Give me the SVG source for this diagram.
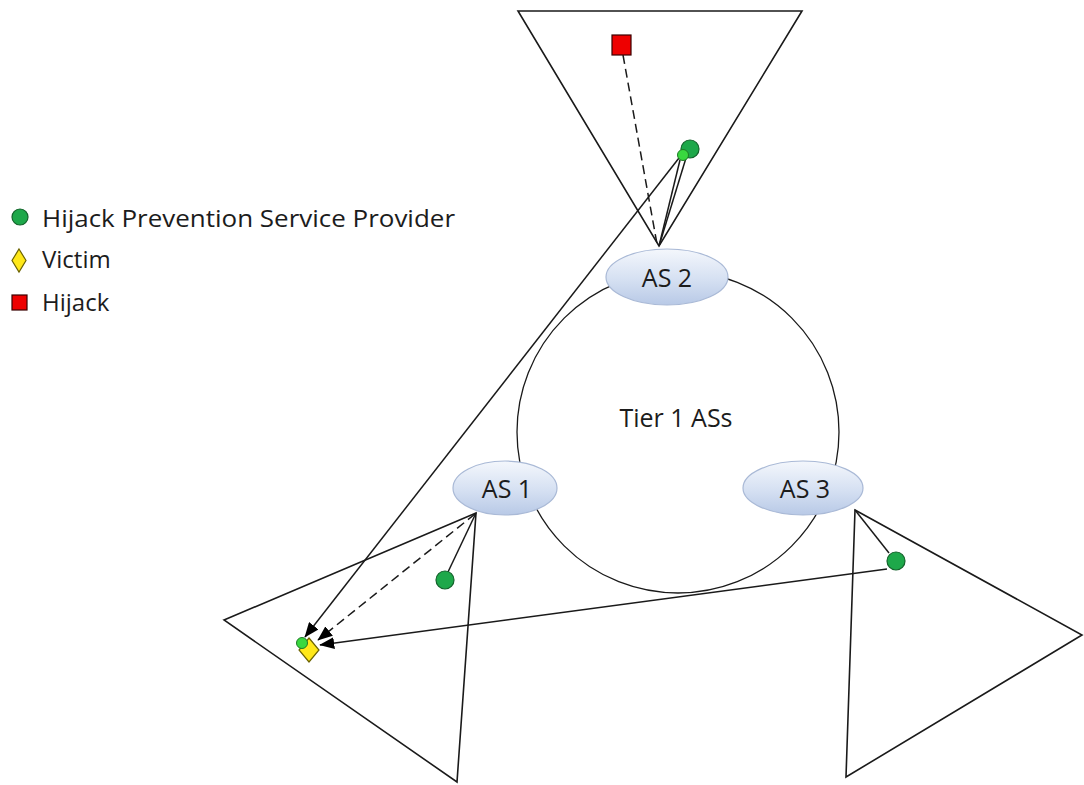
<svg xmlns="http://www.w3.org/2000/svg" width="1084" height="785" viewBox="0 0 1084 785">
  <defs>
    <linearGradient id="asFill" x1="0" y1="0" x2="0" y2="1">
      <stop offset="0" stop-color="#f4f7fc"/>
      <stop offset="0.55" stop-color="#d5e0f2"/>
      <stop offset="1" stop-color="#b8c9e6"/>
    </linearGradient>
    <marker id="arrow" viewBox="0 0 10 8" refX="9.5" refY="4" markerWidth="10" markerHeight="8" orient="auto" markerUnits="strokeWidth">
      <path d="M0,0 L10,4 L0,8 z" fill="#000"/>
    </marker>
    <style>
      .edge { fill: none; stroke: #1a1a1a; stroke-width: 1.5; }
      .dash { stroke-dasharray: 9 5; }
      .tri { fill: none; stroke: #1a1a1a; stroke-width: 1.6; }
      .as { fill: url(#asFill); stroke: #a9b9d6; stroke-width: 1.2; }
      .label { font-family: "Open Sans", "Liberation Sans", sans-serif; fill: #1c1c1c; }
      .hpsp { fill: #1ea84a; stroke: #13632b; stroke-width: 1.2; }
      .hpsp-small { fill: #39d83f; stroke: #1e7a25; stroke-width: 1; }
      .victim { fill: #ffe819; stroke: #6b6200; stroke-width: 1.2; }
      .hijack { fill: #ee0000; stroke: #3a0000; stroke-width: 1.2; }
    </style>
  </defs>
  <rect width="1084" height="785" fill="#fff"/>

  <!-- customer cones below each tier-1 AS -->
  <g id="cone-as2"><polygon class="tri" points="518,11 802,11 659,246"/></g>
  <g id="cone-as1"><polygon class="tri" points="224,620 476,513 457,782"/></g>
  <g id="cone-as3"><polygon class="tri" points="855,510 1082,635 846,777"/></g>

  <!-- tier-1 ring -->
  <g id="tier1">
    <circle cx="678" cy="432" r="161" fill="none" stroke="#1a1a1a" stroke-width="1.3"/>
    <text class="label" x="676" y="427" font-size="25" text-anchor="middle">Tier 1 ASs</text>
  </g>

  <g id="connectors">
    <!-- hijacked route announcement -->
    <line class="edge dash" x1="623" y1="55" x2="657" y2="244"/>
    <!-- provider links to AS 2 -->
    <line class="edge" x1="659" y1="246" x2="680" y2="160"/>
    <line class="edge" x1="659" y1="246" x2="686" y2="158"/>
    <!-- provider links to AS 1 / AS 3 -->
    <line class="edge" x1="476" y1="513" x2="448" y2="572"/>
    <line class="edge" x1="855" y1="510" x2="889" y2="553"/>
    <!-- alerts toward the victim -->
    <line class="edge" x1="679" y1="158" x2="305" y2="637" marker-end="url(#arrow)"/>
    <line class="edge dash" x1="475" y1="514" x2="318" y2="640" marker-end="url(#arrow)"/>
    <line class="edge" x1="887" y1="569" x2="320" y2="645" marker-end="url(#arrow)"/>
  </g>

  <g id="as2">
    <ellipse class="as" cx="667" cy="277" rx="61" ry="28"/>
    <text class="label" x="667" y="287" font-size="25" text-anchor="middle">AS 2</text>
  </g>
  <g id="as1">
    <ellipse class="as" cx="505" cy="488" rx="52" ry="27"/>
    <text class="label" x="507" y="498" font-size="25" text-anchor="middle">AS 1</text>
  </g>
  <g id="as3">
    <ellipse class="as" cx="803" cy="488" rx="60" ry="27"/>
    <text class="label" x="805" y="498" font-size="25" text-anchor="middle">AS 3</text>
  </g>

  <g id="hijacker"><rect class="hijack" x="612" y="35" width="19" height="20"/></g>
  <g id="provider-as2">
    <circle class="hpsp" cx="690" cy="149" r="9"/>
    <circle class="hpsp-small" cx="683" cy="155" r="5.5"/>
  </g>
  <g id="provider-as1"><circle class="hpsp" cx="445" cy="580" r="9"/></g>
  <g id="provider-as3"><circle class="hpsp" cx="896" cy="561" r="9"/></g>
  <g id="victim">
    <polygon class="victim" points="309,638 319,650 309,662 299,650"/>
    <circle class="hpsp-small" cx="302" cy="643" r="5.5"/>
  </g>

  <g id="legend">
    <circle class="hpsp" cx="20" cy="217" r="8"/>
    <text class="label" x="42" y="227" font-size="24" textLength="413" lengthAdjust="spacingAndGlyphs">Hijack Prevention Service Provider</text>
    <polygon class="victim" points="19,249 26,260.5 19,272 12,260.5"/>
    <text class="label" x="42" y="268" font-size="24">Victim</text>
    <rect class="hijack" x="12" y="295" width="15" height="15"/>
    <text class="label" x="42" y="311" font-size="24">Hijack</text>
  </g>
</svg>
